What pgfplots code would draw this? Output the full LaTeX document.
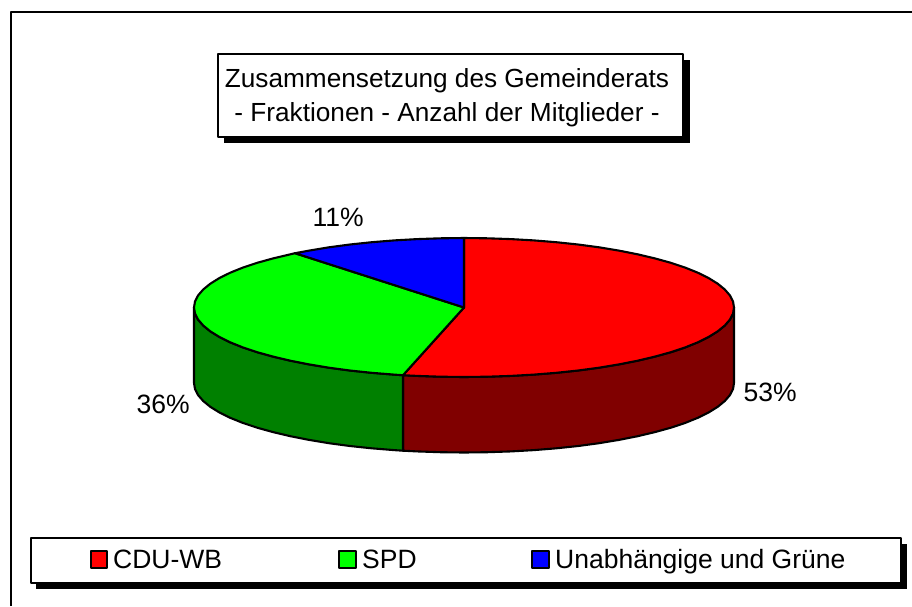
\documentclass[border=0pt]{standalone}
\usepackage{fontspec}
\setmainfont{Liberation Sans}
\usepackage{pgfplots}
\pgfplotsset{compat=1.18}
\definecolor{darkred}{RGB}{128,0,0}
\definecolor{darkgreen}{RGB}{0,128,0}
\newcommand{\lbl}{\fontsize{26.5}{32}\selectfont}
\newcommand{\ttl}{\fontsize{26.2}{32}\selectfont}
\begin{document}
\begin{tikzpicture}
\begin{axis}[
    hide axis, scale only axis,
    width=912pt, height=606pt,
    xmin=0, xmax=912, ymin=0, ymax=606,
    y dir=reverse,
    every axis plot/.append style={line join=round},
]
% hide axis leaves the picture trimmed to its content, keep the full page
\path (axis cs:0,0) (axis cs:912,606);

% outer frame (right and bottom are cut off in the picture)
\addplot[black, line width=2.4pt] coordinates {(11,606) (11,12) (912,12)};

% title box
\addplot[fill=black, draw=none] coordinates {(224,60) (689.5,60) (689.5,143) (224,143)} --cycle;
\addplot[fill=white, draw=black, line width=2pt] coordinates {(218,54) (683,54) (683,137) (218,137)} --cycle;

% side walls of the pie
\addplot[fill=darkred, draw=black, line width=2.1pt] coordinates {
  (734,307.5) (733,313.6) (729.9,319.6) (724.8,325.5) (717.7,331.3) (708.7,336.9) (697.8,342.3)
  (685.2,347.4) (670.8,352.2) (654.9,356.6) (637.6,360.7) (618.9,364.4) (599,367.7) (578.1,370.5)
  (556.3,372.8) (533.9,374.6) (510.9,375.9) (487.5,376.7) (464,377) (440.5,376.7) (417.1,375.9) (403,375.2)
  (403,450.7) (417.1,451.4) (440.5,452.2) (464,452.5) (487.5,452.2) (510.9,451.4) (533.9,450.1)
  (556.3,448.3) (578.1,446) (599,443.2) (618.9,439.9) (637.6,436.2) (654.9,432.1) (670.8,427.7)
  (685.2,422.9) (697.8,417.8) (708.7,412.4) (717.7,406.8) (724.8,401) (729.9,395.1) (733,389.1) (734,383)
} --cycle;
\addplot[fill=darkgreen, draw=black, line width=2.1pt] coordinates {
  (403,375.2) (394.1,374.6) (371.7,372.8) (349.9,370.5) (329,367.7) (309.1,364.4) (290.4,360.7)
  (273.1,356.6) (257.2,352.2) (242.8,347.4) (230.2,342.3) (219.3,336.9) (210.3,331.3) (203.2,325.5)
  (198.1,319.6) (195,313.6) (194,307.5)
  (194,383) (195,389.1) (198.1,395.1) (203.2,401) (210.3,406.8) (219.3,412.4) (230.2,417.8)
  (242.8,422.9) (257.2,427.7) (273.1,432.1) (290.4,436.2) (309.1,439.9) (329,443.2) (349.9,446)
  (371.7,448.3) (394.1,450.1) (403,450.7)
} --cycle;

% top of the pie
\addplot[fill=red, draw=black, line width=2.1pt] coordinates {
  (464,307.5) (464,238) (487.5,238.3) (510.9,239.1) (533.9,240.4) (556.3,242.2) (578.1,244.5)
  (599,247.3) (618.9,250.6) (637.6,254.3) (654.9,258.4) (670.8,262.8) (685.2,267.6) (697.8,272.7)
  (708.7,278.1) (717.7,283.7) (724.8,289.5) (729.9,295.4) (733,301.4) (734,307.5)
  (733,313.6) (729.9,319.6) (724.8,325.5) (717.7,331.3) (708.7,336.9) (697.8,342.3)
  (685.2,347.4) (670.8,352.2) (654.9,356.6) (637.6,360.7) (618.9,364.4) (599,367.7) (578.1,370.5)
  (556.3,372.8) (533.9,374.6) (510.9,375.9) (487.5,376.7) (464,377) (440.5,376.7) (417.1,375.9) (403,375.2)
} --cycle;
\addplot[fill=green, draw=black, line width=2.1pt] coordinates {
  (464,307.5) (403,375.2) (394.1,374.6) (371.7,372.8) (349.9,370.5) (329,367.7) (309.1,364.4) (290.4,360.7)
  (273.1,356.6) (257.2,352.2) (242.8,347.4) (230.2,342.3) (219.3,336.9) (210.3,331.3) (203.2,325.5)
  (198.1,319.6) (195,313.6) (194,307.5) (195,301.4) (198.1,295.4) (203.2,289.5) (210.3,283.7)
  (219.3,278.1) (230.2,272.7) (242.8,267.6) (257.2,262.8) (273.1,258.4) (290.4,254.3) (295,253.2)
} --cycle;
\addplot[fill=blue, draw=black, line width=2.1pt] coordinates {
  (464,307.5) (295,253.2) (309.1,250.6) (329,247.3) (349.9,244.5) (371.7,242.2) (394.1,240.4)
  (417.1,239.1) (440.5,238.3) (464,238)
} --cycle;

% legend box
\addplot[fill=black, draw=none] coordinates {(36,544) (907,544) (907,589) (36,589)} --cycle;
\addplot[fill=white, draw=black, line width=2pt] coordinates {(31,538) (901,538) (901,583) (31,583)} --cycle;
\addplot[fill=red, draw=black, line width=2pt] coordinates {(90.5,550.5) (107,550.5) (107,568) (90.5,568)} --cycle;
\addplot[fill=green, draw=black, line width=2pt] coordinates {(339,550.5) (356,550.5) (356,568) (339,568)} --cycle;
\addplot[fill=blue, draw=black, line width=2pt] coordinates {(532,550.5) (548.5,550.5) (548.5,568) (532,568)} --cycle;

\node[anchor=base west, inner sep=0pt] at (axis cs:113,568) {\lbl CDU-WB};
\node[anchor=base west, inner sep=0pt] at (axis cs:362,568) {\lbl SPD};
\node[anchor=base west, inner sep=0pt] at (axis cs:555,568) {\lbl Unabhängige und Grüne};

% title
\node[anchor=base, inner sep=0pt] at (axis cs:447,87.5) {\ttl Zusammensetzung des Gemeinderats};
\node[anchor=base, inner sep=0pt] at (axis cs:447,121) {\ttl - Fraktionen - Anzahl der Mitglieder -};

% percentage labels
\node[anchor=base west, inner sep=0pt] at (axis cs:312.5,226.5) {\lbl 11\%};
\node[anchor=base west, inner sep=0pt] at (axis cs:136.5,413) {\lbl 36\%};
\node[anchor=base west, inner sep=0pt] at (axis cs:743.5,401) {\lbl 53\%};
\end{axis}
\end{tikzpicture}
\end{document}
